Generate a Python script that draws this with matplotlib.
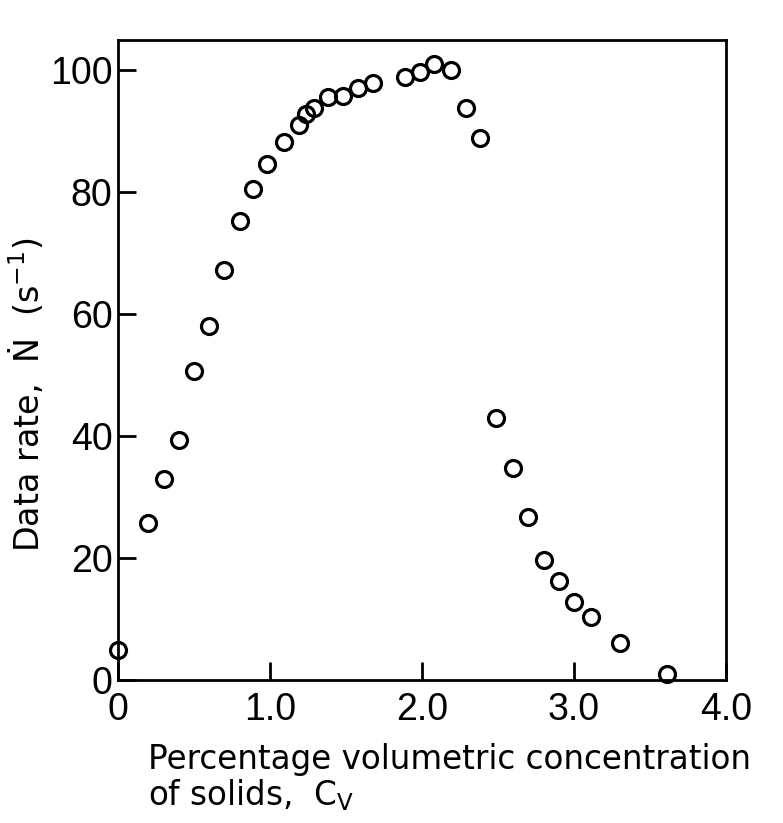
import matplotlib
matplotlib.use("Agg")
import matplotlib.pyplot as plt

# data
conc = [0.0, 0.2, 0.3, 0.4, 0.5, 0.6, 0.7, 0.8, 0.89, 0.98, 1.09, 1.19, 1.24,
        1.29, 1.38, 1.48, 1.58, 1.68, 1.89, 1.99, 2.08, 2.19, 2.29, 2.38,
        2.49, 2.6, 2.7, 2.8, 2.9, 3.0, 3.11, 3.3, 3.61]
rate = [5.0, 25.7, 33.0, 39.4, 50.7, 58.0, 67.2, 75.3, 80.6, 84.6, 88.2, 91.1,
        92.8, 93.9, 95.6, 95.8, 97.2, 98.0, 99.0, 99.8, 101.1, 100.1, 93.8,
        88.9, 43.0, 34.8, 26.7, 19.7, 16.3, 12.8, 10.3, 6.0, 1.0]

xticks = [0, 1.0, 2.0, 3.0, 4.0]
xticklabels = ["0", "1.0", "2.0", "3.0", "4.0"]
yticks = [0, 20, 40, 60, 80, 100]
yticklabels = ["0", "20", "40", "60", "80", "100"]

plt.rcParams["font.family"] = ["DejaVu Sans"]
plt.rcParams["mathtext.fontset"] = "dejavusans"

fig = plt.figure(figsize=(7.83, 8.23), dpi=100)
ax = fig.add_axes([118 / 783, 1 - 680 / 823, (726 - 118) / 783, (680 - 40) / 823])

ax.plot(conc, rate, "o", color="black", mfc="none", ms=11.5, mew=2.3,
        clip_on=False)

ax.set_xlim(0, 4.0)
ax.set_ylim(0, 105)
ax.set_xticks(xticks)
ax.set_xticklabels(xticklabels, family=["Liberation Sans", "DejaVu Sans"])
ax.set_yticks(yticks)
ax.set_yticklabels(yticklabels, family=["Liberation Sans", "DejaVu Sans"])
ax.tick_params(direction="in", length=13, width=2, labelsize=27)
ax.tick_params(axis="x", pad=9)
ax.tick_params(axis="y", pad=4)

for s in ax.spines.values():
    s.set_linewidth(2)

ax.set_ylabel("Data rate,  Ṅ  (s$^{-1}$)", fontsize=24)
ax.yaxis.set_label_coords(-0.118, 0.445)

fig.text(148 / 783, 1 - 743 / 823,
         "Percentage volumetric concentration\nof solids,  C$_\\mathrm{V}$",
         fontsize=23.5, ha="left", va="top", linespacing=1.05)

fig.savefig("out.png", dpi=100)
